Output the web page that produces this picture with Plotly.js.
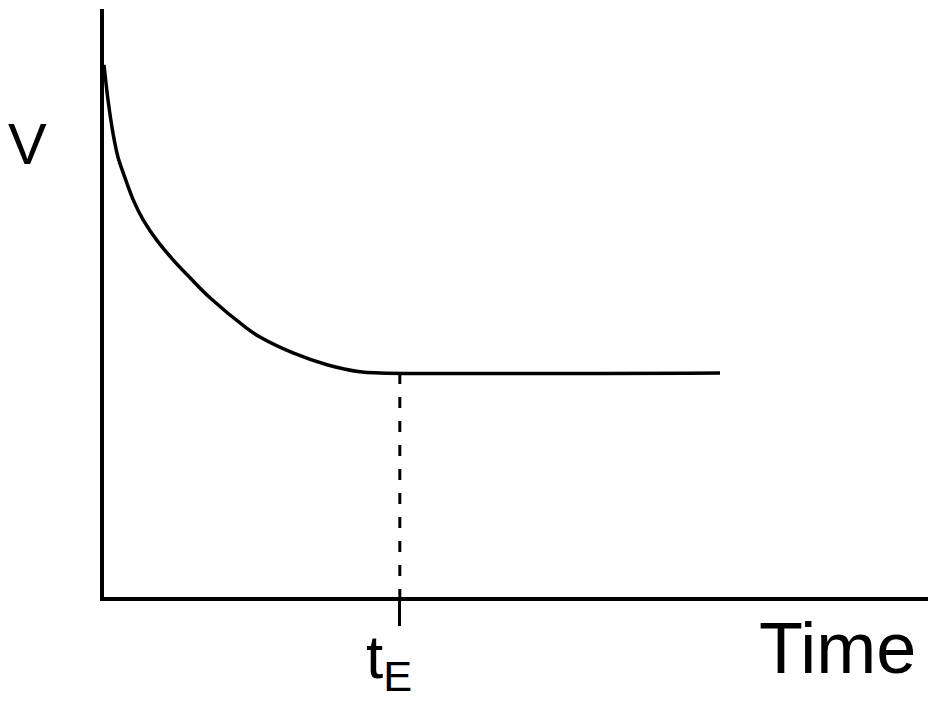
<!DOCTYPE html>
<html>
<head>
<meta charset="utf-8">
<script src="https://cdn.plot.ly/plotly-3.0.1.min.js"></script>
<style>html,body{margin:0;padding:0;background:#fff;}#chart{width:938px;height:715px;}</style>
</head>
<body>
<div id="chart"></div>
<script>
// Decay curve of V over time (arbitrary units), then constant after t_E
const curveTime = [0, 0.049, 0.109, 0.170, 0.234, 0.356, 0.477, 0.640, 0.841, 1.044, 1.286, 1.735, 1.893, 2.294, 2.706, 3.107, 3.350, 7.476];
const curveV    = [9.05, 8.45, 7.89, 7.48, 7.21, 6.75, 6.41, 6.07, 5.73, 5.43, 5.09, 4.57, 4.42, 4.15, 3.95, 3.83, 3.81, 3.81];
const tE = 3.59;
const vPlateau = 3.81;
const tickLabels = ["t<sub>E</sub>"];
const xAxisLabel = "Time";
const yAxisLabel = "V";

const FONT = "Liberation Sans, Arial, Helvetica, sans-serif";

const traces = [
  {
    x: curveTime, y: curveV, type: "scatter", mode: "lines",
    line: {color: "#000", width: 3.5, shape: "spline", smoothing: 1},
    hoverinfo: "skip"
  },
  {
    x: [tE, tE], y: [vPlateau, 0], type: "scatter", mode: "lines",
    line: {color: "#000", width: 3, dash: "11px,13px"},
    hoverinfo: "skip"
  }
];

const layout = {
  width: 938, height: 715,
  margin: {l: 104, r: 10, t: 9, b: 118},
  paper_bgcolor: "#fff", plot_bgcolor: "#fff",
  showlegend: false,
  font: {family: FONT, color: "#000"},
  xaxis: {
    range: [0, 10], showgrid: false, zeroline: false,
    showline: true, linecolor: "#000", linewidth: 4,
    tickmode: "array", tickvals: [tE], ticktext: [""],
    showticklabels: false,
    ticks: "outside", ticklen: 25, tickwidth: 3, tickcolor: "#000",
    fixedrange: true
  },
  yaxis: {
    range: [0, 10], showgrid: false, zeroline: false,
    showline: true, linecolor: "#000", linewidth: 4,
    showticklabels: false, ticks: "",
    fixedrange: true
  },
  annotations: [
    {text: tickLabels[0], xref: "x", yref: "paper", x: tE, y: -0.039,
     xanchor: "center", yanchor: "top", xshift: -11, showarrow: false,
     font: {family: FONT, size: 62, color: "#000"}},
    {text: xAxisLabel, xref: "paper", yref: "paper", x: 0.988, y: -0.0153,
     xanchor: "right", yanchor: "top", showarrow: false,
     font: {family: FONT, size: 72, color: "#000"}},
    {text: yAxisLabel, xref: "paper", yref: "paper", x: -0.0934, y: 0.772,
     xanchor: "center", yanchor: "middle", showarrow: false,
     font: {family: FONT, size: 58, color: "#000"}}
  ]
};

Plotly.newPlot("chart", traces, layout, {displayModeBar: false, staticPlot: true});
</script>
</body>
</html>
